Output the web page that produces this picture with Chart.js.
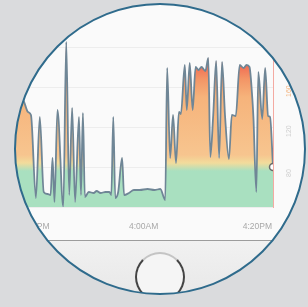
<!DOCTYPE html>
<html>
<head>
<meta charset="utf-8">
<script src="https://cdn.jsdelivr.net/npm/chart.js@4/dist/chart.umd.min.js"></script>
<style>
  html, body { margin: 0; padding: 0; }
  body { width: 308px; height: 307px; background: #dadbdd; position: relative; overflow: hidden; font-family: "Open Sans", sans-serif; }
  .lens { position: absolute; left: 0; top: 0; width: 308px; height: 307px; clip-path: circle(145px at 160px 149px); }
  .screen { position: absolute; left: 0; top: 0; width: 308px; height: 240px; background: #fafafa; }
  .body { position: absolute; left: 0; top: 240px; width: 308px; height: 67px; background: linear-gradient(#f1f1f1, #e6e6e6); border-top: 1.5px solid #9c9c9c; }
  .home { position: absolute; left: 135px; top: 252px; width: 50px; height: 50px; box-sizing: border-box; border-radius: 50%; border: 2px solid; border-color: #c4c4c4 #444 #9a9a9a #444; background: #f5f5f5; }
  .wrap { position: absolute; left: 0; top: 0; width: 308px; height: 232px; }
  .ring { position: absolute; left: 14px; top: 3px; width: 292px; height: 292px; box-sizing: border-box; border-radius: 50%; border: 2px solid #2f6b8c; }
</style>
</head>
<body>
<div class="lens">
  <div class="screen"></div>
  <div class="body"></div>
  <div class="home"></div>
  <div class="wrap"><canvas id="c"></canvas></div>
</div>
<div class="ring"></div>
<script>
// 심박수 스파크 차트 (폰 화면 확대 컷)
const GREEN = "#a9e0c0"
const LINE = "#6f8696"
const AXIS = "#a8a8a8"
const GRID = "#ededed"

const TIMES = [0, 10, 18, 23, 26, 31, 35, 39, 43, 46, 48, 50, 53, 59, 62, 65, 68, 71, 75, 77, 79, 81, 85, 90, 93, 97, 102, 106, 108, 110, 112, 115, 119, 121, 126, 131, 137, 145, 152, 158, 163, 165, 168, 171, 174, 177, 179, 183, 185, 188, 191, 194, 197, 200, 204, 207, 209, 212, 215, 218, 221, 224, 228, 231, 235, 239, 243, 246, 249, 252, 253, 256, 258, 262, 265, 268, 270, 273]
const HEART = [148, 150, 147, 135, 132, 49, 130, 55, 53, 52, 89, 45, 137, 40, 205, 52, 139, 45, 130, 52, 134, 50, 55, 54, 56, 54, 55, 55, 52, 130, 49, 55, 89, 52, 54, 57, 57, 58, 57, 58, 47, 179, 89, 132, 84, 135, 133, 182, 137, 184, 137, 180, 177, 180, 176, 189, 90, 132, 186, 89, 185, 132, 88, 132, 131, 182, 179, 182, 180, 147, 130, 55, 175, 128, 179, 131, 130, 80]

const X_TICKS = [30, 141, 257]
const X_LABELS = ["3:40PM", "4:00AM", "4:20PM"]
const Y_TICKS = [40, 80, 120, 160, 200]
const Y_LABELS = { 80: "80", 120: "120", 160: "160" }

function fillGradient(ctx) {
  const { chart } = ctx
  const y = chart.scales.y
  if (!chart.chartArea || !y) return GREEN
  const g = chart.ctx.createLinearGradient(0, y.getPixelForValue(40), 0, y.getPixelForValue(210))
  const stop = (v) => (v - 40) / 170
  g.addColorStop(0, GREEN)
  g.addColorStop(stop(76), GREEN)
  g.addColorStop(stop(84), "#f2dc9c")
  g.addColorStop(stop(92), "#f7c58f")
  g.addColorStop(stop(150), "#f6b37b")
  g.addColorStop(stop(168), "#f39566")
  g.addColorStop(stop(186), "#f0604e")
  g.addColorStop(1, "#ee4f45")
  return g
}

const last = HEART.length - 1

new Chart(document.getElementById("c"), {
  type: "line",
  data: {
    datasets: [
      {
        data: TIMES.map((t, i) => ({ x: t, y: HEART[i] })),
        borderColor: LINE,
        borderWidth: 1.8,
        fill: "start",
        backgroundColor: fillGradient,
        cubicInterpolationMode: "monotone",
        pointRadius: (c) => (c.dataIndex === last ? 3.5 : 0),
        pointBackgroundColor: "#fff",
        pointBorderColor: "#6a6a6a",
        pointBorderWidth: 1.5,
      },
    ],
  },
  options: {
    responsive: true,
    maintainAspectRatio: false,
    animation: false,
    layout: { padding: { top: 37, left: 0, right: 0, bottom: 0 } },
    plugins: { legend: { display: false }, tooltip: { enabled: false } },
    scales: {
      x: {
        type: "linear",
        min: 0,
        max: 273,
        grid: { display: false },
        border: { display: false },
        afterBuildTicks: (s) => { s.ticks = X_TICKS.map((v) => ({ value: v })) },
        afterFit: (s) => { s.height = 25 },
        ticks: {
          padding: 7,
          maxRotation: 0,
          color: AXIS,
          font: { size: 8.5 },
          callback: (v) => X_LABELS[X_TICKS.indexOf(v)],
        },
      },
      y: {
        position: "right",
        min: 40,
        max: 210,
        grid: { color: GRID, drawTicks: false },
        border: { display: true, color: "#f4aaa2", width: 1 },
        afterBuildTicks: (s) => { s.ticks = Y_TICKS.map((v) => ({ value: v })) },
        afterFit: (s) => { s.width = 35 },
        ticks: {
          padding: 16,
          minRotation: 90,
          maxRotation: 90,
          labelOffset: 10,
          color: (c) => (c.tick && c.tick.value === 160 ? "#f3b47e" : "#cfcfcf"),
          font: { size: 7 },
          callback: (v) => Y_LABELS[v] || "",
        },
      },
    },
  },
})
</script>
</body>
</html>
